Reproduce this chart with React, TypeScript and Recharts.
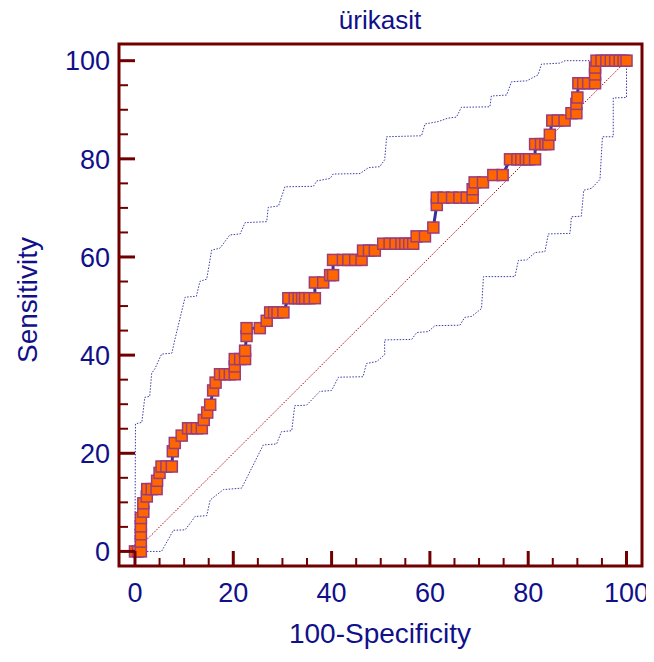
import React from "react";
import { LineChart, Line, XAxis, YAxis, ReferenceArea } from "recharts";

// ROC curve points (100-Specificity, Sensitivity)
const rocX = [
  0, 0.6, 1.2, 1.2, 1.2, 1.2, 1.2, 1.7, 1.7, 2.4,
  2.5, 3.4, 4.4, 4.5, 5.0, 5.4, 6.4, 7.5, 7.7, 8.1,
  9.5, 10.8, 11.6, 12.6, 13.6, 14.0, 14.7, 15.3, 15.9, 16.4,
  17.3, 18.3, 19.3, 20.3, 20.3, 20.3, 21.4, 22.4, 22.4, 22.7,
  22.7, 25.4, 26.8, 27.5, 28.3, 29.0, 30.2, 31.2, 32.5, 33.3,
  34.0, 34.6, 35.5, 36.6, 36.6, 38.3, 39.7, 40.3, 40.3, 42.3,
  43.4, 44.8, 46.1, 46.4, 47.6, 48.8, 50.5, 51.8, 53.0, 54.2,
  55.0, 55.8, 56.6, 57.3, 59.0, 60.7, 61.4, 61.4, 62.8, 64.5,
  66.0, 67.5, 68.7, 68.7, 69.1, 70.8, 72.9, 74.8, 76.3, 77.8,
  78.6, 79.5, 80.2, 81.4, 81.4, 82.6, 83.5, 84.1, 84.4, 84.9,
  86.0, 87.4, 88.8, 89.8, 89.8, 90.0, 90.2, 91.2, 92.2, 93.6,
  93.6, 93.6, 93.9, 94.9, 95.9, 96.8, 97.7, 98.6, 99.4, 100,
];
const rocY = [
  0, 0, 0, 2.0, 3.5, 5.1, 6.8, 8.1, 9.8, 11.2,
  12.7, 12.7, 12.7, 14.4, 16.0, 17.3, 17.3, 17.3, 20.4, 22.1,
  23.6, 25.1, 25.1, 25.1, 25.1, 26.8, 28.3, 29.9, 32.8, 34.4,
  36.1, 36.1, 36.1, 36.1, 37.7, 39.2, 39.2, 39.2, 40.9, 43.9,
  45.5, 45.5, 47.0, 48.7, 48.7, 48.7, 48.7, 51.6, 51.6, 51.6,
  51.6, 51.6, 51.6, 51.6, 54.8, 54.8, 56.3, 56.3, 59.4, 59.4,
  59.4, 59.4, 59.4, 61.3, 61.3, 61.3, 62.7, 62.7, 62.7, 62.7,
  62.7, 62.7, 62.7, 64.2, 64.2, 66.0, 70.6, 72.1, 72.1, 72.1,
  72.1, 72.1, 72.1, 73.8, 75.2, 75.2, 76.7, 76.7, 79.9, 79.9,
  79.9, 79.9, 79.9, 79.9, 83.0, 83.0, 83.0, 83.0, 84.9, 87.8,
  87.8, 87.8, 89.3, 89.3, 91.2, 92.5, 95.4, 95.4, 95.4, 95.4,
  97.2, 98.6, 100, 100, 100, 100, 100, 100, 100, 100,
];

// Upper confidence bound
const upperX = [
  0, 0.1, 1.4, 2.0, 3.0, 3.4, 4.1, 5.4, 7.5, 8.1,
  10.2, 12.5, 13.2, 14.6, 15.6, 17.3, 19.3, 21.4, 22.4, 26.8,
  27.1, 29.2, 30.5, 36.3, 37.0, 39.7, 40.3, 45.8, 47.5, 49.8,
  50.8, 51.2, 58.3, 59.0, 61.7, 63.7, 65.4, 66.4, 72.2, 72.5,
  75.6, 76.6, 79.7, 82.0, 82.7, 86.4, 87.5, 100,
];
const upperY = [
  0, 26.0, 26.3, 31.4, 31.6, 36.3, 37.3, 40.2, 40.4, 43.1,
  51.8, 52.0, 55.0, 55.5, 61.4, 61.8, 64.5, 64.7, 67.0, 67.2,
  70.1, 70.4, 74.3, 74.4, 75.5, 76.0, 76.9, 77.0, 78.2, 78.4,
  79.8, 84.5, 84.7, 87.1, 87.6, 88.3, 88.5, 90.5, 90.6, 92.8,
  93.0, 95.7, 95.9, 97.1, 99.3, 99.5, 100, 100,
];

// Lower confidence bound
const lowerX = [
  0, 5.4, 7.8, 10.2, 11.5, 12.2, 14.6, 15.3, 18.0, 21.7,
  22.7, 26.1, 28.8, 29.8, 31.9, 32.5, 34.9, 37.6, 40.0, 41.4,
  46.4, 47.1, 49.2, 50.8, 50.8, 56.3, 57.3, 59.7, 61.0, 66.1,
  67.1, 68.5, 70.5, 70.9, 77.3, 78.0, 79.7, 81.4, 83.4, 84.1,
  88.5, 88.8, 90.8, 91.3, 92.9, 94.6, 95.1, 97.3, 97.3, 100,
  100,
];
const lowerY = [
  0, 0, 4.3, 4.4, 6.1, 7.1, 7.3, 10.5, 12.6, 12.9,
  14.9, 21.7, 21.9, 24.4, 24.6, 29.7, 29.8, 32.6, 32.8, 35.5,
  35.6, 38.3, 38.7, 40.1, 43.1, 43.2, 44.6, 44.8, 46.0, 46.1,
  47.7, 47.9, 49.5, 56.0, 56.0, 59.3, 59.4, 60.9, 61.1, 64.7,
  64.8, 68.2, 68.3, 73.6, 74.0, 75.8, 84.5, 84.5, 92.4, 92.5,
  100,
];

const diagX = [0, 100];
const diagY = [0, 100];

const ticks = [0, 5, 10, 15, 20, 25, 30, 35, 40, 45, 50, 55, 60, 65, 70, 75, 80, 85, 90, 95, 100];
const xDomain: [number, number] = [-3.25, 103.15];
const yDomain: [number, number] = [-2.97, 103.4];

const zip = (xs: number[], ys: number[]) => xs.map((x, i) => ({ x, y: ys[i] }));
const rocData = zip(rocX, rocY);
const upperData = zip(upperX, upperY);
const lowerData = zip(lowerX, lowerY);
const diagData = zip(diagX, diagY);

const FRAME = "#700000";
const TEXT = "#10108a";
const FONT = "'Liberation Sans', Arial, sans-serif";
const TICK_FS = 27;

const YTick = (props: any) => {
  const { x, y, payload } = props;
  const v = payload.value;
  const major = v % 20 === 0;
  const ax = x + 9;
  return (
    <g>
      <line x1={ax} x2={ax + (major ? 16 : 9)} y1={y} y2={y} stroke={FRAME} strokeWidth={major ? 3 : 2} />
      {major && (
        <text x={x} y={y} dy="0.36em" textAnchor="end" fill={TEXT} fontSize={TICK_FS} fontFamily={FONT}>
          {v}
        </text>
      )}
    </g>
  );
};

const XTick = (props: any) => {
  const { x, y, payload } = props;
  const v = payload.value;
  const major = v % 20 === 0;
  const ay = y - 10;
  return (
    <g>
      <line x1={x} x2={x} y1={ay} y2={ay - (major ? 15 : 8)} stroke={FRAME} strokeWidth={major ? 3 : 2} />
      {major && (
        <text x={x} y={ay + 26} dy="0.36em" textAnchor="middle" fill={TEXT} fontSize={TICK_FS} fontFamily={FONT}>
          {v}
        </text>
      )}
    </g>
  );
};

const SquareDot = (props: any) => {
  const { cx, cy, index } = props;
  if (cx == null || cy == null) return <g key={index} />;
  return (
    <rect
      key={index}
      x={cx - 5.5}
      y={cy - 5.5}
      width={11}
      height={11}
      fill="#ff6600"
      stroke="#9c3c78"
      strokeWidth={1.5}
    />
  );
};

export default function App() {
  return (
    <div style={{ position: "relative", width: 646, height: 646 }}>
      <LineChart
        width={646}
        height={646}
        margin={{ top: 36, right: 12, bottom: 28, left: 11 }}
        style={{ overflow: "visible" }}
      >
        <XAxis
          dataKey="x"
          type="number"
          domain={xDomain}
          ticks={ticks}
          interval={0}
          tickSize={0}
          tickMargin={10}
          axisLine={false}
          tick={<XTick />}
          height={60}
          allowDataOverflow
        />
        <YAxis
          dataKey="y"
          type="number"
          domain={yDomain}
          ticks={ticks}
          interval={0}
          tickSize={0}
          tickMargin={9}
          axisLine={false}
          tick={<YTick />}
          width={100}
          allowDataOverflow
        />
        <ReferenceArea
          x1={xDomain[0]}
          x2={xDomain[1]}
          y1={yDomain[0]}
          y2={yDomain[1]}
          fill="none"
          fillOpacity={0}
          stroke={FRAME}
          strokeWidth={3}
          ifOverflow="visible"
        />
        <Line
          data={diagData}
          dataKey="y"
          type="linear"
          stroke="#b00000"
          strokeWidth={1}
          strokeDasharray="1.5 1.5"
          dot={false}
          isAnimationActive={false}
        />
        <Line
          data={upperData}
          dataKey="y"
          type="linear"
          stroke="#3c3ca8"
          strokeWidth={1}
          strokeDasharray="1.5 1.5"
          dot={false}
          isAnimationActive={false}
        />
        <Line
          data={lowerData}
          dataKey="y"
          type="linear"
          stroke="#3c3ca8"
          strokeWidth={1}
          strokeDasharray="1.5 1.5"
          dot={false}
          isAnimationActive={false}
        />
        <Line
          data={rocData}
          dataKey="y"
          type="linear"
          stroke="#333399"
          strokeWidth={3}
          dot={<SquareDot />}
          isAnimationActive={false}
        />
      </LineChart>
      <svg
        width={646}
        height={646}
        style={{ position: "absolute", left: 0, top: 0, pointerEvents: "none", overflow: "visible" }}
      >
        <text x={372} y={12} dy="0.36em" textAnchor="middle" fill={TEXT} fontSize={26} fontFamily={FONT}>
          ürikasit
        </text>
        <text x={372} y={625} dy="0.36em" textAnchor="middle" fill={TEXT} fontSize={28} fontFamily={FONT}>
          100-Specificity
        </text>
        <text
          x={19}
          y={292}
          dy="0.36em"
          textAnchor="middle"
          fill={TEXT}
          fontSize={28}
          fontFamily={FONT}
          transform="rotate(-90 19 292)"
        >
          Sensitivity
        </text>
      </svg>
    </div>
  );
}
